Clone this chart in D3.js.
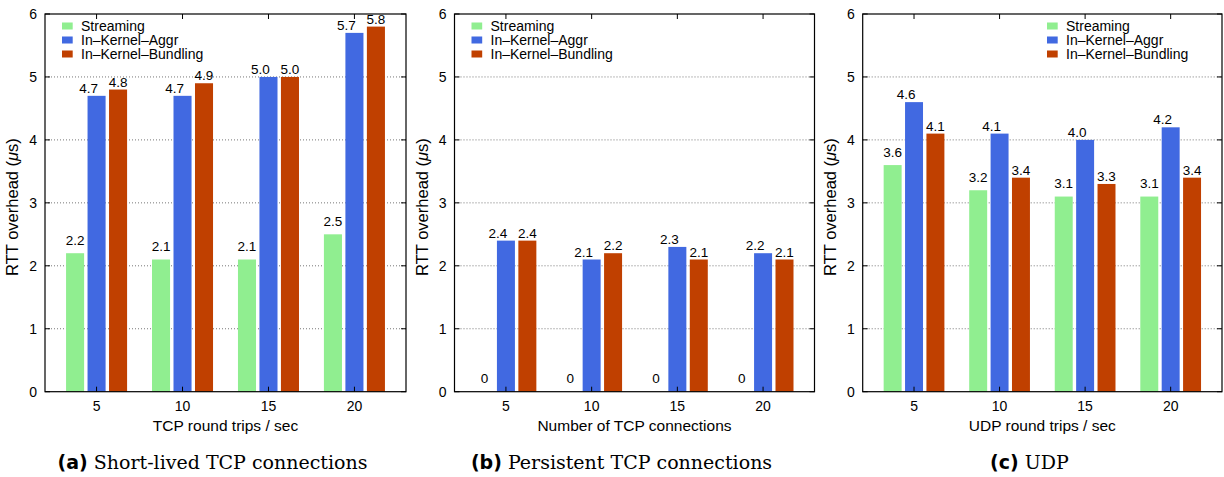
<!DOCTYPE html>
<html>
<head>
<meta charset="utf-8">
<script src="https://cdn.jsdelivr.net/npm/d3@7"></script>
<style>
  body { margin: 0; background: #fff; }
  text { font-family: "Liberation Sans", Arial, sans-serif; fill: #000; }
</style>
</head>
<body>
<div id="chart"></div>
<script>
// data
const categories = ["5", "10", "15", "20"];
const seriesNames = ["Streaming", "In\u2013Kernel\u2013Aggr", "In\u2013Kernel\u2013Bundling"];
const seriesColors = ["#90ee90", "#4169e1", "#c04000"];

const streamingA = [2.2, 2.1, 2.1, 2.5];
const aggrA = [4.7, 4.7, 5.0, 5.7];
const bundlingA = [4.8, 4.9, 5.0, 5.8];

const streamingB = [0, 0, 0, 0];
const aggrB = [2.4, 2.1, 2.3, 2.2];
const bundlingB = [2.4, 2.2, 2.1, 2.1];

const streamingC = [3.6, 3.2, 3.1, 3.1];
const aggrC = [4.6, 4.1, 4.0, 4.2];
const bundlingC = [4.1, 3.4, 3.3, 3.4];

const yTicks = [0, 1, 2, 3, 4, 5, 6];
const xTitles = ["TCP round trips / sec", "Number of TCP connections", "UDP round trips / sec"];
const captionTags = ["(a)", "(b)", "(c)"];
const captionTexts = ["Short-lived TCP connections", "Persistent TCP connections", "UDP"];

const width = 1224;
const height = 477;

var svg = d3.select("#chart").append("svg")
    .attr("width", width).attr("height", height);

// one panel per sub figure
var panels = [
    {left: 45, right: 406, series: [streamingA, aggrA, bundlingA], legend: "left"},
    {left: 454.5, right: 814.5, series: [streamingB, aggrB, bundlingB], legend: "left"},
    {left: 862.7, right: 1222, series: [streamingC, aggrC, bundlingC], legend: "right"}
];
const plotTop = 14, plotBottom = 391.7;

var y = d3.scaleLinear().domain([0, 6]).range([plotBottom, plotTop]);
var offsets = [-0.25, 0, 0.25];
var barW = 0.21;

function fmt(v) {
    return v === 0 ? "0" : v.toFixed(1);
}

panels.forEach(function (p, pi) {
    var x = d3.scaleLinear().domain([-0.6, 3.6]).range([p.left, p.right]);
    var g = svg.append("g");

    // dotted grid
    g.append("g").selectAll("line")
        .data(yTicks.filter(function (t) { return t > 0 && t < 6; }))
        .enter().append("line")
        .attr("x1", p.left).attr("x2", p.right)
        .attr("y1", function (d) { return y(d); })
        .attr("y2", function (d) { return y(d); })
        .attr("stroke", "#777")
        .attr("stroke-width", 1)
        .attr("stroke-dasharray", "1,2");

    // bars
    p.series.forEach(function (vals, si) {
        g.append("g").selectAll("rect")
            .data(vals)
            .enter().append("rect")
            .attr("x", function (d, i) { return x(i + offsets[si] - barW / 2); })
            .attr("width", x(barW) - x(0))
            .attr("y", function (d) { return y(d); })
            .attr("height", function (d) { return plotBottom - y(d); })
            .attr("fill", seriesColors[si]);

        g.append("g").selectAll("text")
            .data(vals)
            .enter().append("text")
            .attr("x", function (d, i) { return x(i + offsets[si]) + (si === 1 ? -8 : 0); })
            .attr("y", function (d) { return y(d) - (si === 0 ? 8.5 : 3); })
            .attr("text-anchor", "middle")
            .attr("font-size", 13.5)
            .text(fmt);
    });

    // frame
    g.append("rect")
        .attr("x", p.left).attr("y", plotTop)
        .attr("width", p.right - p.left).attr("height", plotBottom - plotTop)
        .attr("fill", "none").attr("stroke", "#000").attr("stroke-width", 1.2);

    // inward ticks
    var tk = g.append("g").attr("stroke", "#000").attr("stroke-width", 1);
    categories.forEach(function (c, i) {
        tk.append("line").attr("x1", x(i)).attr("x2", x(i)).attr("y1", plotTop).attr("y2", plotTop + 5);
        tk.append("line").attr("x1", x(i)).attr("x2", x(i)).attr("y1", plotBottom).attr("y2", plotBottom - 5);
    });
    yTicks.forEach(function (t) {
        tk.append("line").attr("x1", p.left).attr("x2", p.left + 5).attr("y1", y(t)).attr("y2", y(t));
        tk.append("line").attr("x1", p.right).attr("x2", p.right - 5).attr("y1", y(t)).attr("y2", y(t));
    });

    // tick labels
    g.append("g").selectAll("text")
        .data(yTicks).enter().append("text")
        .attr("x", p.left - 8)
        .attr("y", function (d) { return y(d); })
        .attr("dy", "0.36em")
        .attr("text-anchor", "end")
        .attr("font-size", 14)
        .text(function (d) { return d; });

    g.append("g").selectAll("text")
        .data(categories).enter().append("text")
        .attr("x", function (d, i) { return x(i); })
        .attr("y", plotBottom + 19.5)
        .attr("text-anchor", "middle")
        .attr("font-size", 14)
        .text(function (d) { return d; });

    // axis titles
    g.append("text")
        .attr("x", (p.left + p.right) / 2)
        .attr("y", plotBottom + 39.5)
        .attr("text-anchor", "middle")
        .attr("font-size", 15.5)
        .text(xTitles[pi]);

    var yl = g.append("text")
        .attr("transform", "translate(" + (p.left - 27) + "," + 207 + ") rotate(-90)")
        .attr("text-anchor", "middle")
        .attr("font-size", 16.5);
    yl.append("tspan").text("RTT overhead (");
    yl.append("tspan").attr("font-style", "italic").text("\u03bc");
    yl.append("tspan").text("s)");

    // legend
    var lx = p.legend === "left" ? p.left + 17 : p.right - 175;
    var lg = g.append("g");
    seriesNames.forEach(function (n, si) {
        var ly = 26 + si * 14;
        lg.append("rect")
            .attr("x", lx).attr("y", ly - 3.5)
            .attr("width", 10.7).attr("height", 7)
            .attr("fill", seriesColors[si]);
        lg.append("text")
            .attr("x", lx + 19).attr("y", ly)
            .attr("dy", "0.36em")
            .attr("font-size", 14)
            .text(n);
    });

    // caption
    var cap = g.append("text")
        .attr("x", (p.left + p.right) / 2 - 13)
        .attr("y", 469)
        .attr("text-anchor", "middle");
    cap.append("tspan")
        .style("font-family", "'DejaVu Sans', sans-serif")
        .attr("font-weight", "bold")
        .attr("font-size", 19)
        .text(captionTags[pi]);
    cap.append("tspan")
        .style("font-family", "'DejaVu Serif', serif")
        .attr("font-size", 19)
        .text(" " + captionTexts[pi]);
});
</script>
</body>
</html>
